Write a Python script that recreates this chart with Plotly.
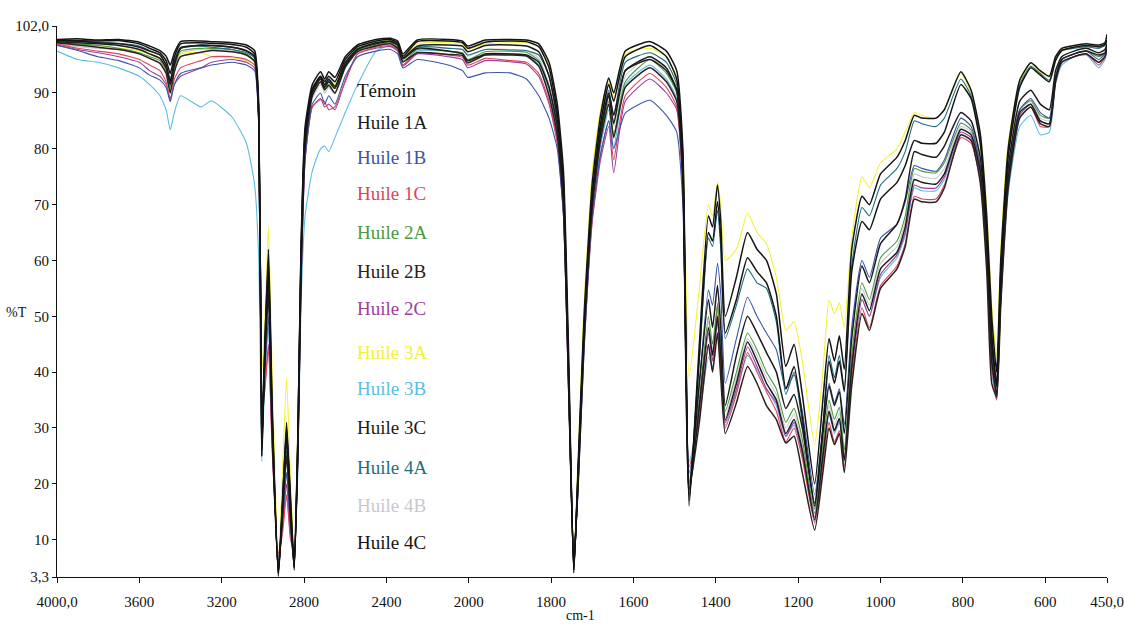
import plotly.graph_objects as go

# Wavenumber grid (cm-1)
wavenumbers = [4000,3900,3800,3700,3600,3550,3500,3470,3450,3430,
               3400,3300,3250,3150,3080,3040,3020,3005,2990,2973,
               2955,2925,2905,2885,2865,2848,2830,2815,2795,2760,
               2720,2700,2680,2650,2600,2540,2450,2380,2345,2320,
               2250,2100,2030,2005,1960,1900,1860,1830,1805,1785,
               1770,1758,1745,1735,1720,1700,1680,1660,1648,1620,
               1560,1520,1495,1480,1465,1440,1418,1408,1396,1388,
               1377,1350,1323,1300,1277,1253,1230,1210,1190,1160,
               1140,1125,1112,1100,1088,1070,1045,1027,1000,960,
               940,918,900,865,845,805,780,758,742,730,
               718,708,690,662,635,612,590,575,560,530,
               500,470,455,450]

temoin = [99.6,99.7,99.5,99.6,99.1,98.4,97.6,96.6,95.0,97.2,
          99.2,99.3,99.2,99.0,98.6,97.6,88.0,25.0,45.0,62.0,
          34.0,3.4,16.0,31.0,16.0,4.5,28.0,62.0,84.0,91.5,
          93.8,92.5,93.8,92.8,96.5,98.6,99.6,99.8,99.3,97.0,
          99.5,99.6,99.3,98.4,99.5,99.6,99.5,98.8,95.5,88.0,
          76.0,45.0,4.0,22.0,50.0,74.0,86.0,92.7,90.0,97.5,
          99.2,97.5,94.0,80.0,16.0,45.0,68.0,66.0,73.5,67.0,
          50.0,57.0,65.0,62.0,60.0,54.0,41.0,45.0,36.0,20.0,
          35.0,46.0,42.0,46.5,40.5,62.0,71.5,70.0,75.5,78.5,
          81.5,86.0,85.5,85.5,87.0,93.8,90.5,82.8,67.8,50.0,
          40.0,60.0,80.0,92.3,95.4,94.0,93.0,96.5,98.0,98.5,
          98.8,98.6,99.0,100.5]

huile_1a = [99.2,99.0,98.8,98.5,97.8,97.0,96.2,94.5,91.5,95.0,
            98.0,98.6,98.5,98.2,97.5,96.5,86.5,26.0,44.0,57.0,
            31.0,4.0,15.0,28.0,14.0,5.0,27.0,59.0,81.0,90.0,
            92.5,91.0,92.0,90.8,95.0,97.8,99.0,99.3,98.7,96.3,
            98.4,98.6,98.4,97.4,98.5,98.6,98.4,97.4,93.0,85.5,
            72.0,41.0,5.0,20.0,47.0,71.0,83.0,89.5,84.5,94.0,
            96.5,94.5,90.5,75.5,18.0,34.0,48.0,43.0,50.0,43.0,
            31.4,38.0,45.4,42.0,38.0,35.0,29.0,31.5,26.0,13.5,
            25.0,33.0,29.5,31.7,24.2,41.0,54.0,51.0,58.5,61.5,
            66.0,74.5,74.0,73.7,75.5,83.5,82.5,76.0,62.0,42.0,
            36.0,54.0,74.5,86.5,88.0,85.0,84.5,92.5,96.0,97.0,
            97.5,96.8,97.2,98.5]

huile_1b = [98.5,97.6,96.5,95.8,94.5,93.2,92.3,91.0,88.5,91.5,
            93.5,94.5,95.0,95.5,95.0,94.0,84.0,33.0,40.0,50.0,
            28.0,6.0,13.0,22.0,12.0,6.5,25.0,55.0,78.0,88.0,
            90.0,88.0,89.5,88.0,93.0,96.5,97.5,97.8,97.0,94.5,
            96.0,95.0,94.0,92.8,93.6,93.6,92.5,89.5,85.5,80.0,
            68.0,38.0,7.0,18.0,44.0,68.0,79.0,85.0,80.0,86.4,
            88.7,86.0,83.0,70.0,20.0,38.0,54.7,52.0,59.5,54.0,
            38.0,46.0,53.4,50.0,47.0,44.0,37.0,39.5,33.0,18.0,
            30.0,38.0,34.5,37.0,30.5,48.0,60.0,57.0,64.0,66.5,
            70.5,77.0,76.5,76.0,78.0,85.5,84.0,77.0,62.0,44.0,
            36.0,54.0,75.0,87.0,89.0,86.5,85.5,93.0,96.0,97.0,
            97.5,96.0,97.0,98.5]

huile_1c = [98.8,98.0,97.5,97.0,96.0,95.0,94.0,92.0,88.5,92.5,
            94.5,95.8,96.5,96.5,96.0,95.0,85.0,35.5,38.0,44.0,
            26.0,7.5,11.0,18.0,10.0,8.5,24.0,55.0,78.5,87.5,
            88.8,88.4,87.0,87.5,92.0,97.0,98.2,98.5,97.6,95.0,
            97.2,96.8,96.4,95.0,96.2,95.8,95.5,93.5,88.5,81.5,
            68.5,37.5,7.5,18.5,44.5,67.5,79.0,85.0,78.0,89.5,
            93.5,91.0,87.5,73.0,23.0,32.0,45.0,40.0,52.4,41.0,
            30.0,36.0,43.5,40.0,36.5,33.0,27.5,30.0,24.5,13.0,
            23.5,31.0,27.5,29.5,23.0,38.5,51.5,48.0,55.5,59.0,
            63.0,71.5,71.0,71.0,73.5,82.0,81.0,74.5,60.0,41.0,
            35.0,52.5,73.0,85.5,87.5,84.0,84.0,92.0,95.5,96.5,
            97.0,95.0,96.3,97.8]

huile_2a = [99.0,98.8,98.5,98.0,97.2,96.5,95.8,94.0,91.0,94.5,
            97.5,98.0,98.0,97.8,97.0,95.8,85.0,30.0,42.0,55.0,
            30.0,5.0,14.0,25.0,13.0,6.0,26.0,57.0,80.0,89.5,
            92.0,90.5,91.5,90.0,94.8,97.6,98.6,99.0,98.2,95.5,
            97.8,97.5,97.2,96.0,97.4,97.5,97.3,95.8,91.0,83.5,
            70.0,39.0,6.0,19.0,46.0,70.0,82.0,88.5,82.5,92.0,
            96.0,93.5,90.0,75.0,20.0,35.0,50.0,45.0,52.0,45.0,
            33.0,40.0,47.0,44.0,40.0,37.0,31.0,33.5,28.0,14.7,
            27.0,35.0,31.5,33.7,26.0,43.0,56.0,53.0,60.5,63.5,
            68.0,76.5,76.0,75.7,77.5,84.6,83.4,77.0,63.0,45.0,
            37.0,55.0,75.0,87.0,88.7,86.0,85.5,93.0,96.0,97.0,
            97.5,96.5,97.0,98.0]

huile_2b = [99.0,98.6,98.2,97.8,97.0,96.2,95.3,93.5,90.0,93.8,
            96.5,97.3,97.6,97.4,96.8,95.6,85.5,28.0,42.0,54.0,
            29.0,4.5,14.0,25.0,13.0,5.5,26.0,57.0,80.0,89.5,
            92.0,90.6,91.4,90.0,94.6,97.4,98.4,98.8,98.0,95.6,
            97.2,96.9,96.7,95.4,96.8,96.8,96.6,94.8,89.5,82.5,
            69.5,39.0,5.0,19.5,46.0,69.5,81.5,88.0,82.0,91.0,
            94.5,92.0,88.5,74.0,19.0,31.0,45.0,40.0,47.0,39.0,
            29.0,34.5,41.0,38.0,34.0,31.5,27.3,28.5,22.0,11.7,
            22.0,30.0,27.0,29.0,22.0,37.5,50.5,47.5,55.0,58.5,
            62.5,71.0,70.5,70.5,73.0,82.5,81.5,74.0,58.0,38.0,
            35.5,52.0,73.0,85.5,87.5,84.5,84.0,92.0,95.5,96.5,
            97.0,95.5,96.5,98.0]

huile_2c = [98.6,97.8,97.2,96.5,95.5,94.0,93.0,91.5,89.0,91.5,
            93.0,94.5,95.5,96.0,95.5,94.5,84.0,34.0,37.0,45.0,
            27.0,7.0,12.0,20.0,11.0,8.0,25.0,55.0,78.0,87.5,
            89.0,87.5,88.0,87.0,92.3,97.0,98.0,98.3,97.5,94.8,
            97.0,96.5,96.0,94.5,95.8,95.6,95.2,93.0,88.0,81.0,
            68.0,37.0,7.0,18.0,44.0,67.0,78.0,84.0,75.7,88.5,
            92.5,90.0,87.0,73.0,22.0,33.0,47.0,42.0,49.0,42.0,
            31.0,37.0,44.5,41.0,37.0,34.5,28.5,31.0,25.5,14.0,
            25.0,33.0,29.5,31.5,24.5,40.0,53.0,50.0,57.5,61.0,
            65.0,73.5,73.0,73.0,75.0,83.0,82.0,75.5,61.0,42.0,
            35.5,53.0,74.0,86.0,88.0,85.0,84.5,92.5,95.5,96.5,
            97.0,95.5,96.5,98.0]

huile_3a = [99.0,98.6,98.5,98.0,97.6,96.8,96.2,94.5,92.0,95.0,
            97.0,97.2,96.5,96.3,95.8,95.0,85.0,40.0,50.0,66.0,
            40.0,6.0,22.0,39.0,20.0,7.0,30.0,60.0,82.0,90.0,
            92.5,91.5,92.5,91.5,95.5,98.0,99.2,99.4,98.8,96.2,
            98.8,99.0,98.8,97.8,98.8,99.0,99.0,98.3,95.0,87.0,
            74.0,43.0,5.5,24.0,52.0,76.0,87.0,92.0,89.0,97.0,
            98.0,96.5,92.0,80.0,39.0,55.0,70.0,68.0,74.0,70.0,
            60.0,62.0,68.5,65.0,63.0,57.0,47.5,49.0,42.0,27.0,
            40.0,52.9,50.5,52.4,48.0,64.0,75.0,73.0,77.5,80.0,
            83.0,86.5,86.0,85.5,87.0,93.5,90.0,83.0,69.0,52.0,
            43.0,62.0,81.0,92.0,95.0,93.8,92.8,96.0,97.8,98.2,
            98.5,98.2,98.6,99.0]

huile_3b = [97.5,96.0,95.5,94.5,93.0,91.5,89.5,87.0,83.4,86.5,
            89.5,87.5,88.6,85.7,81.0,73.5,60.0,24.0,40.0,48.0,
            28.0,6.0,12.0,18.0,10.0,7.0,22.0,52.0,68.0,76.0,
            80.0,80.5,79.5,82.0,86.5,91.5,97.5,98.5,97.8,95.0,
            97.5,97.5,97.0,95.5,96.8,97.0,96.8,95.0,90.0,82.0,
            69.0,38.0,6.5,19.0,45.0,69.0,80.5,87.0,80.0,91.5,
            95.0,92.5,89.0,74.0,24.0,32.0,42.7,41.0,49.0,40.0,
            30.5,36.5,43.0,40.5,37.0,34.0,28.5,30.5,25.0,13.5,
            24.5,32.5,29.0,31.0,24.0,40.0,53.0,50.0,57.0,60.5,
            64.5,73.0,72.5,72.5,74.5,82.5,81.5,75.0,60.5,40.0,
            35.0,52.0,72.0,84.0,86.0,82.5,83.0,91.5,95.0,96.5,
            96.8,94.5,96.0,97.5]

huile_3c = [99.4,99.3,99.0,98.8,98.2,97.5,96.8,95.0,92.0,95.5,
            98.0,98.5,98.5,98.2,97.6,96.5,86.0,27.0,46.0,60.0,
            33.0,4.0,16.0,30.0,15.0,5.0,28.0,60.0,82.0,90.5,
            92.8,91.5,92.5,91.2,95.4,97.8,98.8,99.2,98.6,96.2,
            98.0,97.5,97.0,95.8,97.0,97.0,96.8,95.5,91.0,84.0,
            71.0,41.0,4.5,21.0,47.0,71.0,83.0,90.0,86.0,94.0,
            96.0,94.0,90.5,76.0,19.0,38.0,53.0,48.0,55.5,48.0,
            34.0,43.0,50.0,47.0,43.5,40.0,33.5,36.0,30.0,16.5,
            29.0,37.5,34.0,36.5,29.0,46.0,59.0,56.0,63.0,66.5,
            71.0,79.5,79.0,78.5,80.5,86.5,85.0,78.5,64.0,45.0,
            37.5,56.0,76.5,88.5,90.5,88.0,87.0,94.0,96.5,97.5,
            98.0,97.2,97.8,98.8]

huile_4a = [99.3,99.2,99.0,98.9,98.4,97.6,96.8,95.0,92.5,95.8,
            98.2,98.4,98.2,97.8,97.2,96.2,86.0,28.0,44.0,56.0,
            30.0,4.5,15.0,26.0,14.0,5.5,27.0,60.0,82.5,90.2,
            92.5,91.2,92.3,91.0,95.5,98.0,99.0,99.2,98.5,96.0,
            98.3,98.0,97.8,96.8,97.8,97.7,97.6,96.8,93.0,85.0,
            72.0,40.0,5.0,20.0,47.0,71.0,83.5,90.5,86.0,95.5,
            97.2,95.5,91.5,77.0,18.0,42.0,64.0,62.5,69.0,62.0,
            46.0,52.0,58.5,56.0,55.0,49.0,36.0,40.0,31.0,15.5,
            30.0,43.0,39.0,43.0,37.0,59.0,69.5,68.0,73.5,76.5,
            79.5,85.0,84.5,84.0,85.5,92.5,89.5,82.0,66.0,46.0,
            38.0,58.0,79.0,91.5,94.8,93.5,92.3,96.0,97.6,98.0,
            98.3,98.0,98.5,99.2]

huile_4b = [98.8,98.3,98.0,97.8,97.0,96.2,95.5,93.5,90.5,94.0,
            97.2,97.8,97.8,97.5,96.8,95.5,84.5,30.0,42.0,53.0,
            29.0,5.5,13.0,22.0,12.0,7.0,26.0,57.0,80.0,89.0,
            91.5,90.0,91.0,89.8,94.5,97.5,98.6,98.9,98.2,95.8,
            98.0,98.0,97.8,96.6,97.8,97.8,97.6,96.2,91.5,84.0,
            70.5,39.5,6.0,19.5,46.5,70.5,82.5,89.0,84.0,93.0,
            96.5,94.0,90.5,75.0,21.0,35.0,49.0,44.0,51.0,44.0,
            32.0,39.0,46.0,43.0,39.0,36.0,30.0,32.5,27.0,14.0,
            26.0,34.0,30.5,32.7,25.0,42.0,55.0,52.0,59.5,62.5,
            67.0,75.5,75.0,74.7,76.5,84.0,83.0,76.5,62.5,44.0,
            37.0,55.0,75.0,87.0,88.5,85.5,85.0,93.0,96.0,97.0,
            97.5,96.5,97.0,98.0]

huile_4c = [99.5,99.4,99.3,99.4,98.8,98.0,97.2,95.8,93.5,96.5,
            98.8,99.0,98.9,98.7,98.2,97.0,86.0,27.0,44.0,58.0,
            32.0,4.0,17.0,29.0,17.0,5.0,29.0,61.0,83.0,90.8,
            93.0,92.0,93.0,92.0,96.0,98.3,99.3,99.6,99.0,96.6,
            99.2,99.3,99.0,98.0,99.1,99.3,99.2,98.3,94.5,86.5,
            74.0,42.0,4.5,21.0,48.0,72.0,84.5,91.5,88.5,96.5,
            98.5,96.5,92.5,78.0,17.0,43.0,65.0,63.5,70.5,64.0,
            47.0,53.0,60.5,58.0,56.0,50.0,37.0,41.0,32.0,16.0,
            30.0,42.0,38.0,42.0,36.5,58.0,67.0,65.5,71.0,74.0,
            77.0,81.5,81.0,81.0,83.0,91.5,89.0,81.0,65.5,47.0,
            37.5,58.0,78.5,91.0,94.5,93.2,92.0,95.8,97.6,98.2,
            98.5,98.3,98.7,99.5]

series_names = ["Témoin", "Huile 1A", "Huile 1B", "Huile 1C", "Huile 2A", "Huile 2B",
                "Huile 2C", "Huile 3A", "Huile 3B", "Huile 3C", "Huile 4A", "Huile 4B", "Huile 4C"]
series_values = [temoin, huile_1a, huile_1b, huile_1c, huile_2a, huile_2b,
                 huile_2c, huile_3a, huile_3b, huile_3c, huile_4a, huile_4b, huile_4c]

x_tick_wn = [4000, 3600, 3200, 2800, 2400, 2000, 1800, 1600, 1400, 1200, 1000, 800, 600, 450]
x_tick_text = ["4000,0", "3600", "3200", "2800", "2400", "2000", "1800", "1600",
               "1400", "1200", "1000", "800", "600", "450,0"]
y_tick_vals = [3.3, 10, 20, 30, 40, 50, 60, 70, 80, 90, 102]
y_tick_text = ["3,3", "10", "20", "30", "40", "50", "60", "70", "80", "90", "102,0"]

# styling
colors = {"Témoin": "#141414", "Huile 1A": "#1c1c1c", "Huile 1B": "#3b55a8",
          "Huile 1C": "#d9465e", "Huile 2A": "#4c9a3c", "Huile 2B": "#2e2020",
          "Huile 2C": "#9c3f9c", "Huile 3A": "#f2f23a", "Huile 3B": "#5cbde3",
          "Huile 3C": "#1c1c1c", "Huile 4A": "#1f6e7e", "Huile 4B": "#c8c8d2",
          "Huile 4C": "#141414"}
legend_y_px = {"Témoin": 91, "Huile 1A": 122, "Huile 1B": 157, "Huile 1C": 193,
               "Huile 2A": 233, "Huile 2B": 271, "Huile 2C": 308, "Huile 3A": 352,
               "Huile 3B": 388, "Huile 3C": 427, "Huile 4A": 467, "Huile 4B": 505,
               "Huile 4C": 542}
draw_order = ["Huile 4B", "Huile 3A", "Huile 3B", "Huile 2C", "Huile 1C", "Huile 2A",
              "Huile 1B", "Huile 4A", "Huile 2B", "Huile 3C", "Huile 1A", "Huile 4C", "Témoin"]


def to_axis(w):
    # FTIR axis: scale doubles below 2000 cm-1
    return (4000 - w) / 2 if w >= 2000 else 1000 + (2000 - w)


xu = [to_axis(w) for w in wavenumbers]

fig = go.Figure()
for name in draw_order:
    vals = series_values[series_names.index(name)]
    is_black = colors[name] in ("#141414", "#1c1c1c", "#2e2020")
    fig.add_trace(go.Scatter(x=xu, y=vals, mode="lines", name=name,
                             line=dict(color=colors[name], width=1.5 if is_black else 1.1,
                                       shape="spline", smoothing=0.5),
                             showlegend=False, hoverinfo="skip"))

L, R, T, B = 57, 17, 26, 50
W, H = 1124, 627
pw, ph = W - L - R, H - T - B

font_family = "Liberation Serif"
annotations = []
for name in series_names:
    annotations.append(dict(text=name, xref="paper", yref="paper",
                            x=(355 - L) / pw, y=(H - B - legend_y_px[name]) / ph,
                            xanchor="left", yanchor="middle", showarrow=False,
                            font=dict(family=font_family, size=19, color=colors[name])))
annotations.append(dict(text="%T", xref="paper", yref="paper", x=(16 - L) / pw,
                        y=(H - B - 313) / ph, xanchor="center", yanchor="middle",
                        showarrow=False, font=dict(family=font_family, size=14, color="#111")))
annotations.append(dict(text="cm-1", xref="paper", yref="paper", x=(580 - L) / pw,
                        y=(H - B - 615) / ph, xanchor="center", yanchor="middle",
                        showarrow=False, font=dict(family=font_family, size=14, color="#111")))

fig.update_layout(
    width=W, height=H,
    margin=dict(l=L, r=R, t=T, b=B),
    paper_bgcolor="white", plot_bgcolor="white",
    font=dict(family=font_family, color="#111"),
    annotations=annotations,
    xaxis=dict(range=[0, 2550], tickmode="array", automargin=False,
               tickvals=[to_axis(w) for w in x_tick_wn], ticktext=x_tick_text,
               showgrid=False, zeroline=False, showline=True, linecolor="#111",
               linewidth=1.2, ticks="outside", ticklen=5, tickcolor="#111",
               ticklabelstandoff=6,
               tickfont=dict(family=font_family, size=15, color="#111")),
    yaxis=dict(range=[3.3, 102], tickmode="array", tickvals=y_tick_vals, automargin=False,
               ticktext=y_tick_text, showgrid=False, zeroline=False, showline=True,
               linecolor="#111", linewidth=1.2, ticks="outside", ticklen=4,
               tickcolor="#111",
               tickfont=dict(family=font_family, size=15, color="#111")),
)

fig.write_html("out.html", config={"displayModeBar": False},
               post_script="document.body.style.margin='0';document.body.style.overflow='hidden';")
